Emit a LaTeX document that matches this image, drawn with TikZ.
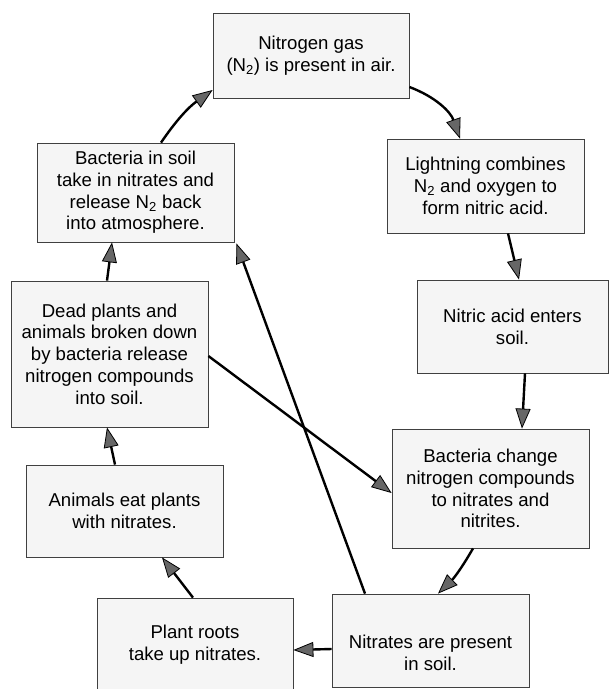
\documentclass[tikz,border=0pt]{standalone}
\usepackage{fontspec}
\setmainfont{Liberation Sans}
\usetikzlibrary{arrows.meta}
\tikzset{
  box/.style={draw=black!75, line width=0.8pt, fill=black!4, rectangle, inner sep=0pt, align=center,
    font=\fontsize{18.6}{21.7}\selectfont},
  txt/.style={inner sep=0pt, align=center, font=\fontsize{18.6}{21.7}\selectfont},
  arr/.style={draw=black, line width=2.4pt, -{Triangle[length=20pt,width=15pt,fill=black!60,line width=0.8pt]}}
}
\begin{document}
\begin{tikzpicture}[x=1pt,y=-1pt]
\useasboundingbox (0,0) rectangle (610,689);
\clip (0,0) rectangle (610,689);
\fill[white] (0,0) rectangle (610,689);
\node[box, minimum width=196pt, minimum height=85pt] (A) at (311,55.5) {Nitrogen gas\\(N\textsubscript{2}) is present in air.};
\node[box, minimum width=197pt, minimum height=99pt] (B) at (135.5,192.5) {Bacteria in soil\\take in nitrates and\\release N\textsubscript{2} back\\into atmosphere.};
\node[box, minimum width=197pt, minimum height=94pt] (C) at (485.5,186) {Lightning combines\\N\textsubscript{2} and oxygen to\\form nitric acid.};
\node[box, minimum width=191pt, minimum height=93pt] (D) at (512.5,326.5) {Nitric acid enters\\soil.};
\node[box, minimum width=197pt, minimum height=146pt] (E) at (109.5,354) {Dead plants and\\animals broken down\\by bacteria release\\nitrogen compounds\\into soil.};
\node[box, minimum width=197pt, minimum height=119pt] (F) at (490.5,488.5) {Bacteria change\\nitrogen compounds\\to nitrates and\\nitrites.};
\node[box, minimum width=197pt, minimum height=92pt] (G) at (124.5,511) {Animals eat plants\\with nitrates.};
\node[box, minimum width=196pt, minimum height=93pt] (H) at (195,644.5) {Plant roots\\take up nitrates.};
\node[box, minimum width=197pt, minimum height=93pt] (I) at (430.5,640.5) {};
\node[txt] (It) at (430.5,653) {Nitrates are present\\in soil.};

\draw[arr] ([yshift=-31.5pt]A.east) to[bend left=25] ([xshift=-25.5pt]C.north);
\draw[arr] ([xshift=25.5pt]B.north) to[bend left=10] ([yshift=-34.5pt]A.west);
\draw[arr] ([xshift=22.5pt]C.south) -- ([xshift=6.5pt]D.north);
\draw[arr] ([xshift=12.5pt]D.south) -- ([xshift=31.5pt]F.north);
\draw[arr] ([xshift=-17.5pt]F.south) to[bend left=8] ([xshift=7.5pt]I.north);
\draw[arr] ([yshift=-8.5pt]I.west) -- ([yshift=-5.5pt]H.east);
\draw[arr] ([xshift=-2pt]H.north) -- ([xshift=37.5pt]G.south);
\draw[arr] ([xshift=-9.5pt]G.north) -- ([xshift=-2.5pt]E.south);
\draw[arr] ([xshift=-2.5pt]E.north) -- ([xshift=-23.5pt]B.south);
\draw[arr] ([xshift=-65.5pt]I.north) -- ([xshift=2pt,yshift=-1pt]B.south east);
\draw[arr] ([yshift=-2pt]E.east) -- ([yshift=-4.5pt]F.west);
\end{tikzpicture}
\end{document}
